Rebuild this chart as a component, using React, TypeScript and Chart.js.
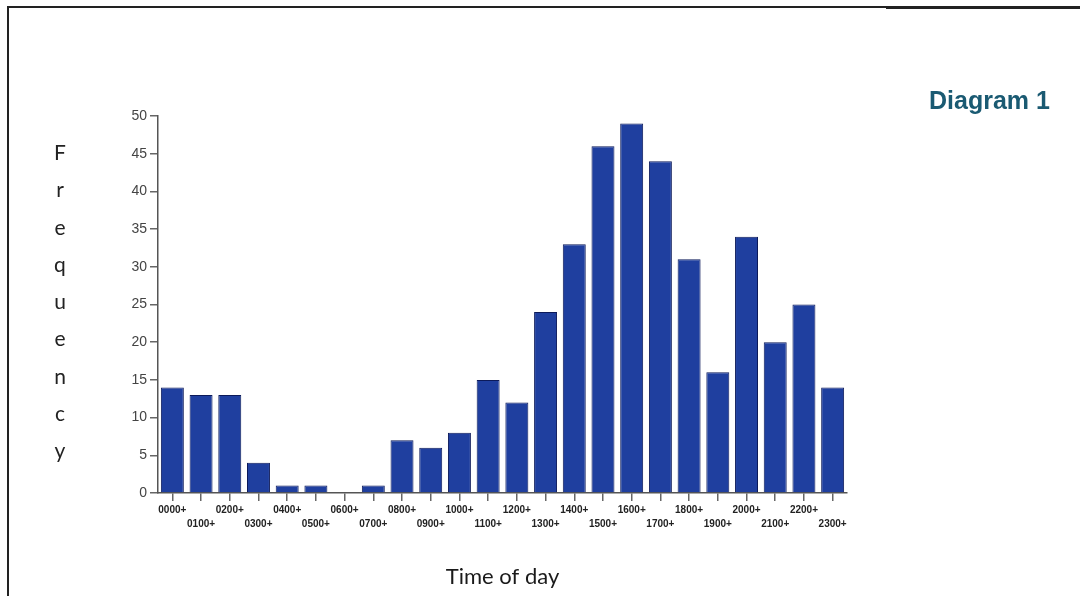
import React, { useEffect, useRef } from "react";
import { Chart, registerables } from "chart.js";

Chart.register(...registerables);

const timeLabels = [
  "0000+", "0100+", "0200+", "0300+", "0400+", "0500+", "0600+", "0700+",
  "0800+", "0900+", "1000+", "1100+", "1200+", "1300+", "1400+", "1500+",
  "1600+", "1700+", "1800+", "1900+", "2000+", "2100+", "2200+", "2300+",
];
const frequencies = [14, 13, 13, 4, 1, 1, 0, 1, 7, 6, 8, 15, 12, 24, 33, 46, 49, 44, 31, 16, 34, 20, 25, 14];
const yTitleLetters = ["F", "r", "e", "q", "u", "e", "n", "c", "y"];
const xTitle = "Time of day";
const diagramTitle = "Diagram 1";

export default function App() {
  const ref = useRef<HTMLCanvasElement | null>(null);
  useEffect(() => {
    if (!ref.current) return;
    const chart = new Chart(ref.current, {
      type: "bar",
      data: {
        labels: timeLabels,
        datasets: [
          {
            data: frequencies,
            backgroundColor: "#1f3f9f",
            borderColor: "#0c1a5a",
            borderWidth: 1,
            barPercentage: 0.8,
            categoryPercentage: 1.0,
          },
        ],
      },
      options: {
        responsive: false,
        animation: false,
        devicePixelRatio: 1,
        layout: { padding: { left: 100, right: 233, top: 116, bottom: 0 } },
        plugins: { legend: { display: false }, tooltip: { enabled: false }, title: { display: false } },
        scales: {
          x: {
            offset: true,
            afterFit: (s: any) => { s.height = 103; },
            grid: { display: true, offset: false, drawOnChartArea: false, drawTicks: true, tickLength: 8, color: "#666", lineWidth: 1.5 },
            border: { display: true, color: "#555", width: 1.5 },
            ticks: {
              autoSkip: false,
              maxRotation: 0,
              minRotation: 0,
              padding: 2,
              color: "#222",
              font: { family: "Liberation Sans, Arial", size: 10, weight: "bold", lineHeight: 1.4 },
              callback: (_v: any, i: number) => (i % 2 === 0 ? [timeLabels[i], ""] : ["", timeLabels[i]]),
            },
            title: {
              display: true,
              text: xTitle,
              color: "#1a1a1a",
              font: { family: "Lato, Open Sans, sans-serif", size: 22 },
              padding: { top: 4, bottom: 6 },
            },
          },
          y: {
            min: 0,
            max: 50,
            afterFit: (s: any) => { s.width = 58; },
            grid: { display: true, drawOnChartArea: false, drawTicks: true, tickLength: 8, color: "#666", lineWidth: 1.5 },
            border: { display: true, color: "#555", width: 1.5 },
            ticks: {
              stepSize: 5,
              padding: 3,
              color: "#444",
              font: { family: "Liberation Sans Narrow, Liberation Sans, Arial", size: 14 },
            },
          },
        },
      },
    });
    return () => chart.destroy();
  }, []);

  return (
    <div style={{ position: "fixed", left: 0, top: 0, width: 1080, height: 596, background: "#fff", overflow: "hidden" }}>
      <canvas ref={ref} width={1080} height={596} style={{ position: "absolute", left: 0, top: 0 }} />
      <div style={{ position: "absolute", left: 7, top: 6, width: 2, height: 590, background: "#222" }} />
      <div style={{ position: "absolute", left: 7, top: 6, width: 879, height: 1.5, background: "#222" }} />
      <div style={{ position: "absolute", left: 886, top: 6, width: 194, height: 2.5, background: "#222" }} />
      <div
        style={{
          position: "absolute",
          left: 929,
          top: 86,
          fontFamily: "Liberation Sans, Arial, sans-serif",
          fontWeight: "bold",
          fontSize: 25,
          color: "#1a5a72",
          whiteSpace: "nowrap",
        }}
      >
        {diagramTitle}
      </div>
      <div
        style={{
          position: "absolute",
          left: 48,
          top: 133,
          width: 24,
          textAlign: "center",
          fontFamily: "Lato, Open Sans, sans-serif",
          fontSize: 21,
          lineHeight: "37.3px",
          color: "#222",
        }}
      >
        {yTitleLetters.map((c, i) => (
          <div key={i}>{c}</div>
        ))}
      </div>
    </div>
  );
}
